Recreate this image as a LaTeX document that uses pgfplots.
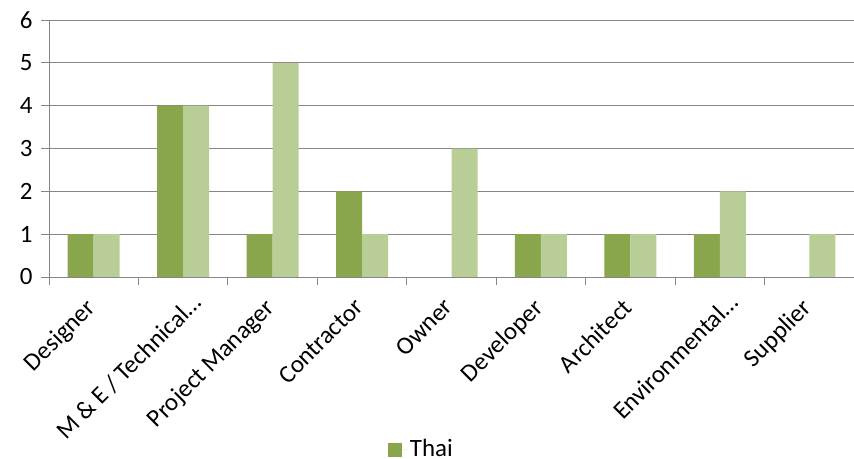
\documentclass[border=0pt]{standalone}
\usepackage{pgfplots}
\pgfplotsset{compat=1.18}
\usepackage{fontspec}
\setmainfont{Carlito}
\definecolor{dk}{HTML}{8AA64C}
\definecolor{lt}{HTML}{B9CE96}
\definecolor{gr}{HTML}{868686}
\newcommand{\ellab}[1]{\raisebox{-8bp}[\height][0pt]{#1}\hspace*{-15bp}}
\begin{document}
\fontsize{25}{30}\selectfont
\begin{tikzpicture}
\path[use as bounding box] (0,0) rectangle (854bp,459bp);
\begin{axis}[
  at={(49bp,182bp)}, anchor=south west,
  scale only axis, width=805bp, height=257bp,
  ymin=0, ymax=6, ytick={0,...,6},
  xmin=-0.5, xmax=8.5,
  xtick={-0.5,0.5,...,8.5}, xticklabels={},
  extra x ticks={0,...,8},
  extra x tick labels={Designer, \ellab{M \& E / Technical…}, Project Manager, Contractor, Owner, Developer, Architect, \ellab{Environmental…}, Supplier},
  extra x tick style={major tick length=0pt, grid=none},
  axis x line*=bottom, axis y line*=left,
  axis line style={gr, line width=1pt},
  tick style={gr, line width=1pt},
  major tick length=8bp, tick align=outside,
  ymajorgrids, grid style={gr, line width=1pt},
  ybar=0pt, bar width=26bp,
  x tick label style={xshift=-9bp, yshift=-20bp, rotate=45, anchor=north east, inner sep=0pt},
  tick label style={font=\fontsize{25}{30}\selectfont},
  /pgf/number format/assume math mode=true,
  legend style={draw=none, inner sep=0pt, at={(0.462,-0.672)}, anchor=center, font=\fontsize{25}{30}\selectfont,
    nodes={inner sep=1bp}},
  legend image code/.code={\fill[#1] (0bp,-7bp) rectangle (14bp,7bp); \path (0bp,0bp) -- (21bp,0bp);},
]
\addplot[fill=dk, draw=none] coordinates {(0,1) (1,4) (2,1) (3,2) (4,0) (5,1) (6,1) (7,1) (8,0)};
\addlegendentry{Thai}
\addplot[fill=lt, draw=none] coordinates {(0,1) (1,4) (2,5) (3,1) (4,3) (5,1) (6,1) (7,2) (8,1)};
\end{axis}
\end{tikzpicture}
\end{document}
